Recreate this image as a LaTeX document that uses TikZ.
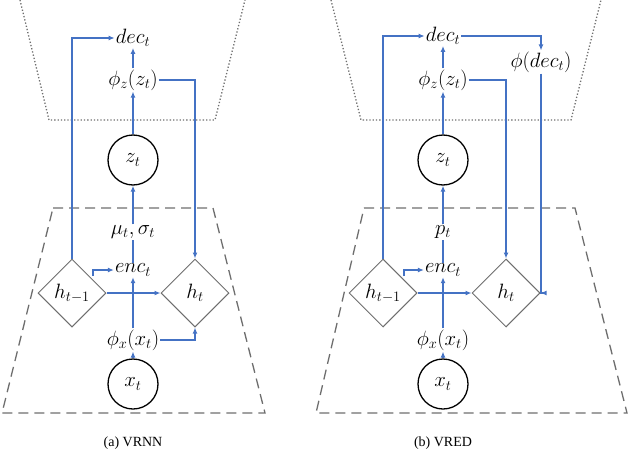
\documentclass[tikz,border=0pt]{standalone}
\usepackage{fontspec}
\setmainfont{Liberation Serif}
\usetikzlibrary{shapes.geometric,arrows.meta}
\definecolor{lblue}{RGB}{68,114,196}
\definecolor{lgray}{RGB}{110,110,110}
\begin{document}
\begin{tikzpicture}[x=1pt,y=-1pt,
  lbl/.style={inner sep=1pt,font=\fontsize{21}{24}\selectfont},
  var/.style={circle,draw,line width=1.3pt,minimum size=50pt,inner sep=0pt,font=\fontsize{21}{24}\selectfont},
  gate/.style={diamond,draw=lgray,line width=1pt,minimum size=68pt,inner sep=0pt,font=\fontsize{21}{24}\selectfont},
  con/.style={draw=lblue,line width=1.6pt,-{Latex[length=6pt,width=5pt]}},
  plain/.style={draw=lblue,line width=1.6pt},
  caption/.style={font=\fontsize{14}{16}\selectfont}]
\useasboundingbox (0,0) rectangle (628,460);

% ---- (a) VRNN ----
\draw[lgray,line width=1.3pt,dotted] (20,0) -- (49,120) -- (215,120) -- (245,0);
\draw[lgray,line width=1.3pt,dash pattern=on 10pt off 6pt] (53,208) -- (213,208) -- (265,413) -- (2,413) -- cycle;
\node[lbl] (adec) at (133,38) {$dec_t$};
\node[lbl] (aphz) at (133,80) {$\phi_z(z_t)$};
\node[var] (az) at (133,160) {$z_t$};
\node[lbl] (amu) at (133,232) {$\mu_t,\sigma_t$};
\node[lbl] (aenc) at (133,270) {$enc_t$};
\node[gate] (ah0) at (72,293) {$h_{t-1}$};
\node[gate] (ah1) at (195,293) {$h_t$};
\node[lbl] (aphx) at (133,340) {$\phi_x(x_t)$};
\node[var] (ax) at (133,384) {$x_t$};
\coordinate (ac) at (93,276);
\draw[con] (ah0.north) |- (adec.west);
\draw[con] (aphz.north) -- (adec.south);
\draw[con] (az.north) -- (aphz.south);
\draw[con] (amu.north) -- (az.south);
\draw[plain] (aenc.north) -- (amu.south);
\draw[con] (aphz.east) -| (ah1.north);
\draw[con] (ah0.east) -- (ah1.west);
\draw[con] (ac) |- (aenc.west);
\draw[con] (aphx.north) -- (aenc.south);
\draw[con] (aphx.east) -| (ah1.south);
\draw[con] (ax.north) -- (aphx.south);
\node[caption] (acap) at (133,443) {(a) VRNN};

% ---- (b) VRED ----
\draw[lgray,line width=1.3pt,dotted] (331,0) -- (361,120) -- (571,120) -- (601,0);
\draw[lgray,line width=1.3pt,dash pattern=on 10pt off 6pt] (364,208) -- (575,208) -- (627,413) -- (316,413) -- cycle;
\node[lbl] (bdec) at (443,36) {$dec_t$};
\node[lbl] (bphd) at (541,62) {$\phi(dec_t)$};
\node[lbl] (bphz) at (443,80) {$\phi_z(z_t)$};
\node[var] (bz) at (443,160) {$z_t$};
\node[lbl] (bp) at (443,232) {$p_t$};
\node[lbl] (benc) at (443,270) {$enc_t$};
\node[gate] (bh0) at (383,293) {$h_{t-1}$};
\node[gate] (bh1) at (506,293) {$h_t$};
\node[lbl] (bphx) at (443,340) {$\phi_x(x_t)$};
\node[var] (bx) at (443,384) {$x_t$};
\coordinate (bc) at (404,276);
\draw[con] (bh0.north) |- (bdec.west);
\draw[con] (bdec.east) -| (bphd.north);
\draw[con] (bphd.south) |- (bh1.east);
\draw[con] (bphz.north) -- (bdec.south);
\draw[con] (bz.north) -- (bphz.south);
\draw[con] (bp.north) -- (bz.south);
\draw[plain] (benc.north) -- (bp.south);
\draw[con] (bphz.east) -| (bh1.north);
\draw[con] (bh0.east) -- (bh1.west);
\draw[con] (bc) |- (benc.west);
\draw[con] (bphx.north) -- (benc.south);
\draw[con] (bx.north) -- (bphx.south);
\node[caption] (bcap) at (443,443) {(b) VRED};
\end{tikzpicture}
\end{document}
